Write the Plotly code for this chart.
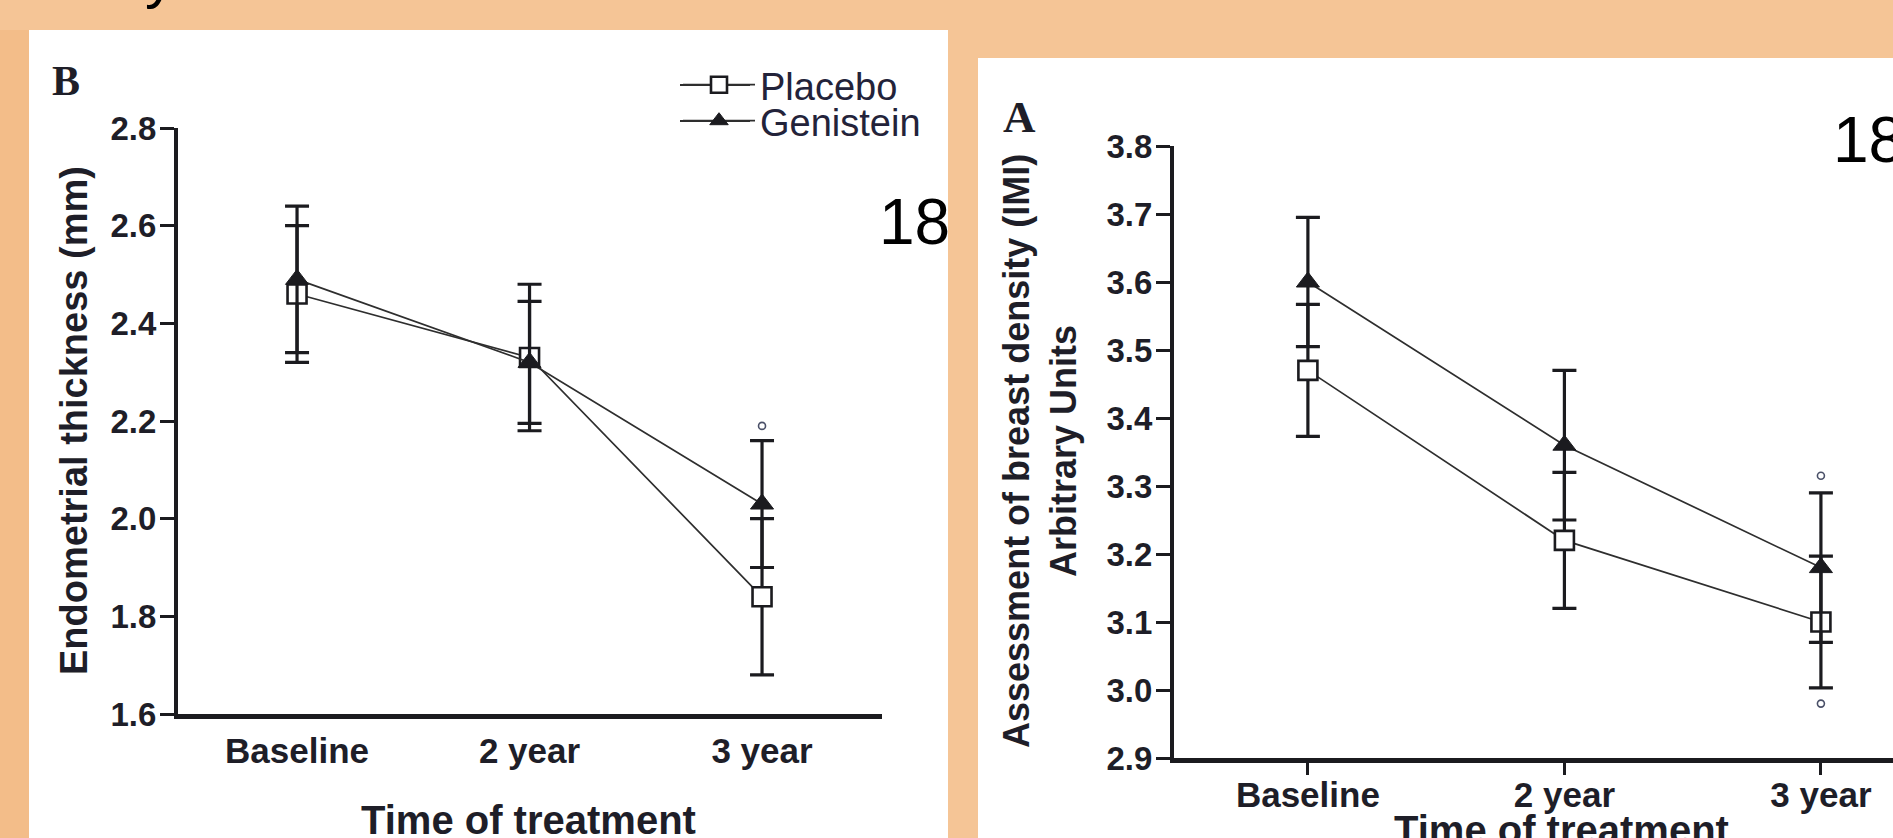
import plotly.graph_objects as go

W, H = 1893, 838

# ---------------- data ----------------
categories = ["Baseline", "2 year", "3 year"]

# Panel B: endometrial thickness (mm)
endo_placebo = [2.46, 2.33, 1.84]
endo_placebo_err = [0.14, 0.15, 0.16]
endo_genistein = [2.49, 2.32, 2.03]
endo_genistein_err = [0.15, 0.125, 0.13]
endo_sig_x = ["3 year"]
endo_sig_y = [2.19]
endo_yticks = [1.6, 1.8, 2.0, 2.2, 2.4, 2.6, 2.8]

# Panel A: breast density (IMI), arbitrary units
dens_placebo = [3.47, 3.22, 3.10]
dens_placebo_err = [0.097, 0.10, 0.097]
dens_genistein = [3.60, 3.36, 3.18]
dens_genistein_err = [0.095, 0.11, 0.11]
dens_sig_x = ["3 year", "3 year"]
dens_sig_y = [3.315, 2.98]
dens_yticks = [2.9, 3.0, 3.1, 3.2, 3.3, 3.4, 3.5, 3.6, 3.7, 3.8]

series_names = ["Placebo", "Genistein"]

# ---------------- helpers ----------------
def px(x):
    return x / W


def py(y):
    return 1 - y / H


INK = "#1b1b1f"
LINE = "#2e2e2e"
SANS = "Liberation Sans, Arial, Helvetica, sans-serif"
SERIF = "Liberation Serif, Times New Roman, serif"
NARROW = "Liberation Sans Narrow, Arial Narrow, Liberation Sans, Arial, sans-serif"
ORANGE = "#F5C596"

fig = go.Figure()


def add_panel(xa, ya, placebo, placebo_err, genistein, genistein_err, sig_x, sig_y, legend):
    fig.add_trace(go.Scatter(
        x=categories, y=placebo, name=series_names[0], mode="lines+markers",
        xaxis=xa, yaxis=ya, showlegend=legend, legend="legend",
        line=dict(color=LINE, width=1.7),
        marker=dict(symbol="square", size=19, color="white", line=dict(color=INK, width=2.6)),
        error_y=dict(type="data", array=placebo_err, visible=True, color=INK, thickness=3.2, width=12),
    ))
    fig.add_trace(go.Scatter(
        x=categories, y=genistein, name=series_names[1], mode="lines+markers",
        xaxis=xa, yaxis=ya, showlegend=legend, legend="legend2",
        line=dict(color=LINE, width=1.7),
        marker=dict(symbol="triangle-up", size=20, color=INK, line=dict(color=INK, width=1)),
        error_y=dict(type="data", array=genistein_err, visible=True, color=INK, thickness=3.2, width=12),
    ))
    fig.add_trace(go.Scatter(
        x=sig_x, y=sig_y, mode="markers", xaxis=xa, yaxis=ya, showlegend=False,
        marker=dict(symbol="circle-open", size=7, color="#4a5068", line=dict(width=1.6)),
        hoverinfo="skip",
    ))


add_panel("x", "y", endo_placebo, endo_placebo_err, endo_genistein, endo_genistein_err,
          endo_sig_x, endo_sig_y, True)
add_panel("x2", "y2", dens_placebo, dens_placebo_err, dens_genistein, dens_genistein_err,
          dens_sig_x, dens_sig_y, False)

xtickfont = dict(family=SANS, size=35, color="#1e1e28", weight="bold")
ytickfont = dict(family=SANS, size=33, color="#1e1e28", weight="bold")

axis_common = dict(showgrid=False, zeroline=False, showline=True, linecolor=INK)

fig.update_layout(
    xaxis=dict(**axis_common, domain=[px(178), px(882)], anchor="y",
               type="category", categoryorder="array", categoryarray=categories,
               range=[-0.512, 2.516], linewidth=5, ticks="", tickfont=xtickfont,
               ticklabelstandoff=2),
    yaxis=dict(**axis_common, domain=[py(714), py(128)], anchor="x",
               range=[1.6, 2.8], tickvals=endo_yticks, tickformat=".1f",
               ticks="outside", ticklen=14, tickwidth=3, tickcolor=INK,
               linewidth=4, tickfont=ytickfont, ticklabelstandoff=-3),
    xaxis2=dict(**axis_common, domain=[px(1174), 1.0], anchor="y2",
                type="category", categoryorder="array", categoryarray=categories,
                range=[-0.522, 2.281], linewidth=5, ticks="outside", ticklen=12,
                tickwidth=3, tickcolor=INK, tickfont=xtickfont, ticklabelstandoff=-10),
    yaxis2=dict(**axis_common, domain=[py(758), py(146)], anchor="x2",
                range=[2.9, 3.8], tickvals=dens_yticks, tickformat=".1f",
                ticks="outside", ticklen=14, tickwidth=3, tickcolor=INK,
                linewidth=4, tickfont=ytickfont, ticklabelstandoff=-3),
)

# background panels and long legend sample lines
shapes = [
    dict(type="rect", xref="paper", yref="paper", x0=0, x1=px(29), y0=py(900), y1=py(30),
         fillcolor="#F3BD89", line=dict(width=0), layer="below"),
    dict(type="rect", xref="paper", yref="paper", x0=px(29), x1=px(948), y0=py(900), y1=py(30),
         fillcolor="white", line=dict(width=0), layer="below"),
    dict(type="rect", xref="paper", yref="paper", x0=px(978), x1=px(1960), y0=py(900), y1=py(58),
         fillcolor="white", line=dict(width=0), layer="below"),
    dict(type="line", xref="paper", yref="paper", x0=px(680), x1=px(750), y0=py(85), y1=py(85),
         line=dict(color=LINE, width=1.8)),
    dict(type="line", xref="paper", yref="paper", x0=px(680), x1=px(750), y0=py(121), y1=py(121),
         line=dict(color=LINE, width=1.8)),
]

title_font = dict(family=SANS, size=40, color="#1e1e28", weight="bold")
ytitle_font = dict(family=SANS, size=38, color="#1e1e28", weight="bold")
ytitle2_font = dict(family=SANS, size=36, color="#1e1e28", weight="bold")

annotations = [
    # text clipped at the very top of the picture
    dict(text="y", xref="paper", yref="paper", x=px(160), y=py(12), xanchor="center",
         yanchor="bottom", showarrow=False, font=dict(family=SANS, size=60, color="black")),
    dict(text="B", xref="paper", yref="paper", x=px(50), y=py(81), xanchor="left",
         yanchor="middle", showarrow=False,
         font=dict(family=SERIF, size=42, color="#1e1e28", weight="bold")),
    dict(text="A", xref="paper", yref="paper", x=px(1001), y=py(117), xanchor="left",
         yanchor="middle", showarrow=False,
         font=dict(family=SERIF, size=45, color="#1e1e28", weight="bold")),
    dict(text="18", xref="paper", yref="paper", x=px(877), y=py(222), xanchor="left",
         yanchor="middle", showarrow=False, font=dict(family=NARROW, size=64, color="black")),
    dict(text="18", xref="paper", yref="paper", x=px(1831), y=py(140), xanchor="left",
         yanchor="middle", showarrow=False, font=dict(family=NARROW, size=64, color="black")),
    dict(text="Endometrial thickness (mm)", xref="paper", yref="paper", x=px(74), y=py(421),
         xanchor="center", yanchor="middle", textangle=-90, showarrow=False, font=ytitle_font),
    dict(text="Assessment of breast density (IMI)<br>Arbitrary Units", xref="paper", yref="paper",
         x=px(1040), y=py(451), xanchor="center", yanchor="middle", textangle=-90,
         showarrow=False, font=ytitle2_font),
    dict(text="Time of treatment", xref="paper", yref="paper", x=px(528), y=py(820),
         xanchor="center", yanchor="middle", showarrow=False, font=title_font),
    dict(text="Time of treatment", xref="paper", yref="paper", x=px(1561), y=py(806),
         xanchor="center", yanchor="top", showarrow=False, font=title_font),
]

legend_common = dict(xanchor="left", yanchor="middle", bgcolor="rgba(0,0,0,0)", borderwidth=0,
                     font=dict(family=SANS, size=38, color="#23233a"), itemwidth=72,
                     tracegroupgap=0)

fig.update_layout(
    width=W, height=H, autosize=False,
    margin=dict(l=0, r=0, t=0, b=0, pad=0, autoexpand=False),
    paper_bgcolor=ORANGE, plot_bgcolor="white",
    shapes=shapes, annotations=annotations,
    showlegend=True,
    legend=dict(x=px(678), y=py(85), **legend_common),
    legend2=dict(x=px(678), y=py(121), **legend_common),
)

fig.write_html("out.html")
